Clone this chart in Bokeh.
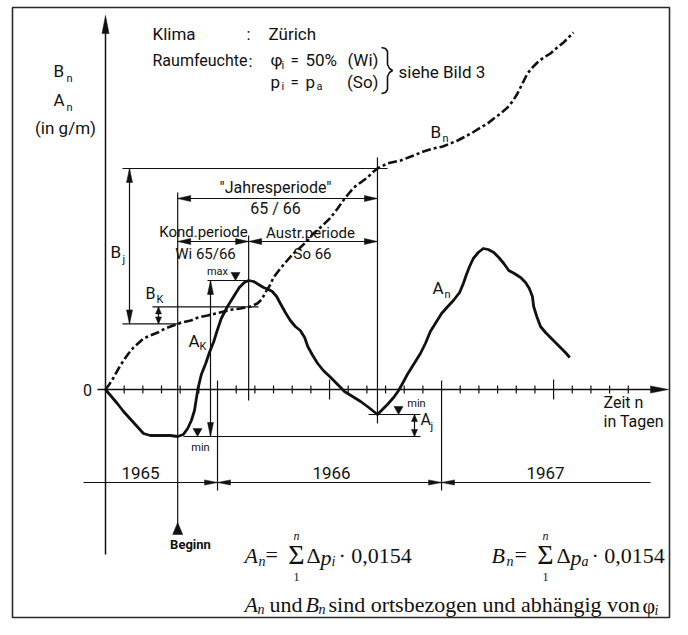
import numpy as np
from bokeh.plotting import figure
from bokeh.models import Range1d
from bokeh.core.properties import value
from bokeh.embed import file_html
from bokeh.resources import INLINE

# ---------------- data ----------------
# time n in days since 1 July 1965, values in g/m (arbitrary scale of the sketch)
days_A = [0, 19, 29, 45, 61, 72, 88, 104, 116, 125,
          132, 138, 143, 146, 149, 154, 161, 167, 174, 180,
          186, 196, 206, 215, 223, 230, 238, 246, 254, 262,
          268, 275, 281, 289, 297, 305, 313, 320, 325, 333,
          341, 350, 362, 373, 384, 397, 410, 423, 431, 437,
          445, 453, 463, 471, 479, 485, 495, 506, 514, 522,
          532, 540, 550, 559, 569, 575, 580, 585, 591, 599,
          607, 615, 624, 632, 640, 648, 657, 667, 675, 681,
          686, 688, 693, 699, 707, 715, 723, 731, 739, 746]
A_n = [0.0, -1.4, -2.2, -3.3, -4.4, -4.6, -4.6, -4.6, -4.7, -4.5,
       -3.9, -3.1, -2.1, -0.9, 0.2, 1.5, 2.6, 3.7, 4.8, 6.0,
       7.1, 8.3, 9.3, 10.2, 10.7, 10.9, 10.8, 10.5, 10.2, 10.0,
       9.8, 9.3, 8.6, 7.7, 6.9, 6.3, 5.9, 5.2, 4.3, 3.4,
       2.6, 1.9, 1.2, 0.5, -0.2, -0.7, -1.2, -1.8, -2.2, -2.5,
       -2.0, -1.5, -0.8, -0.1, 0.8, 1.5, 2.5, 3.6, 4.6, 5.8,
       6.8, 7.6, 8.3, 8.9, 9.7, 10.6, 11.5, 12.3, 13.1, 13.7,
       14.1, 14.0, 13.7, 13.2, 12.6, 11.9, 11.6, 11.2, 10.7, 10.1,
       9.3, 8.3, 7.3, 6.3, 5.7, 5.2, 4.7, 4.2, 3.7, 3.2]

days_B = [0, 6, 13, 21, 29, 37, 45, 61, 72, 84,
          96, 109, 122, 137, 149, 164, 177, 190, 204, 217,
          233, 244, 251, 257, 264, 270, 281, 292, 302, 313,
          325, 334, 349, 362, 373, 382, 391, 399, 410, 421,
          429, 437, 453, 474, 495, 511, 527, 542, 554, 566,
          575, 590, 603, 614, 624, 635, 646, 654, 662, 670,
          678, 686, 694, 704, 715, 726, 736, 744, 752]
B_n = [0.0, 0.5, 1.2, 2.1, 2.9, 3.6, 4.2, 5.1, 5.4, 5.7,
       6.1, 6.4, 6.7, 6.9, 7.2, 7.4, 7.6, 7.8, 8.0, 8.1,
       8.3, 8.6, 9.0, 9.7, 10.4, 11.2, 12.1, 12.9, 13.6, 14.2,
       14.9, 15.6, 16.4, 17.2, 18.1, 18.9, 19.6, 20.2, 20.7, 21.2,
       21.7, 22.1, 22.6, 22.9, 23.4, 23.8, 24.1, 24.3, 24.6, 24.9,
       25.2, 25.7, 26.2, 26.6, 27.1, 27.6, 28.2, 28.8, 29.6, 30.6,
       31.6, 32.2, 32.7, 33.2, 33.6, 34.2, 34.7, 35.2, 35.7]

tick_days = [30 * k for k in range(1, 29)]      # monthly ticks
year_labels = ["1965", "1966", "1967"]
year_start_days = [180, 540]                     # 1.1.1966, 1.1.1967

# derived characteristic points
dA = np.array(days_A, float); vA = np.array(A_n, float)
first = dA < 300
i_min1 = int(np.argmin(np.where(first, vA, np.inf)))
i_max1 = int(np.argmax(np.where(first, vA, -np.inf)))
i_min2 = int(np.argmin(np.where((dA > 300) & (dA < 600), vA, np.inf)))
n_beg, A_min1 = dA[i_min1], vA[i_min1]
n_kond, A_max = dA[i_max1], vA[i_max1]
n_end, A_min2 = dA[i_min2], vA[i_min2]
B_beg = float(np.interp(n_beg, days_B, B_n))
B_kond = float(np.interp(n_kond, days_B, B_n))
B_end = float(np.interp(n_end, days_B, B_n))

# ---------------- layout helpers ----------------
INK = "#111111"
W, H = 672, 619
DPX = 30 / 18.67          # days per pixel
UPY = 0.1                 # g/m per pixel
OX, OY = 105, 389         # origin position (pixels from top-left)


def gx(X):
    return (X - OX) * DPX


def gy(Y):
    return (OY - Y) * UPY


p = figure(width=W, height=H,
           x_range=Range1d(gx(0), gx(W)), y_range=Range1d(gy(H), gy(0)),
           output_backend="svg", toolbar_location=None,
           x_axis_location=None, y_axis_location=None,
           min_border=0, outline_line_color=None,
           background_fill_color="white", border_fill_color="white")
p.xgrid.visible = False
p.ygrid.visible = False

segs_x, segs_y = [], []
heads_x, heads_y = [], []


def seg(x0, y0, x1, y1):
    segs_x.append([x0, x1]); segs_y.append([y0, y1])


def head(tx, ty, d, L=13, w=3):
    lx, ly, wx, wy = L * DPX, L * UPY, w * DPX, w * UPY
    if d == "r":
        pts = [(tx, ty), (tx - lx, ty + wy), (tx - lx, ty - wy)]
    elif d == "l":
        pts = [(tx, ty), (tx + lx, ty + wy), (tx + lx, ty - wy)]
    elif d == "u":
        pts = [(tx, ty), (tx - wx, ty - ly), (tx + wx, ty - ly)]
    else:
        pts = [(tx, ty), (tx - wx, ty + ly), (tx + wx, ty + ly)]
    heads_x.append([q[0] for q in pts]); heads_y.append([q[1] for q in pts])


def T(X, Y, s, size=16, align="left", font="Roboto", style="normal"):
    p.text(x=[gx(X)], y=[gy(Y)], text=[s], text_font=value(font),
           text_font_size=f"{size}px", text_font_style=style,
           text_align=align, text_baseline="middle", text_color=INK)


# frame
p.quad(left=gx(12), right=gx(669), top=gy(7), bottom=gy(617),
       fill_color=None, line_color="#2a2a2a", line_width=1.6)

# axes
p.line([gx(97), gx(655)], [0, 0], line_color=INK, line_width=1.5)
head(gx(668), 0, "r", L=18, w=3.5)
p.line([0, 0], [gy(554), gy(25)], line_color=INK, line_width=1.5)
head(0, gy(15), "u", L=18, w=3.5)

for k, t in enumerate(tick_days, start=1):
    if t in year_start_days:
        continue
    h = 10 if k % 6 == 0 else 4
    seg(t, gy(OY - h), t, gy(OY + h))
for b in year_start_days:
    seg(b, gy(380), b, gy(490))

# year line
seg(gx(83), gy(482), gx(650), gy(482))
for b in year_start_days:
    head(b, gy(482), "r", L=13, w=2.6)
    head(b, gy(482), "l", L=13, w=2.6)

# period verticals
seg(n_beg, gy(192), n_beg, gy(530))
head(n_beg, gy(522), "u", L=12, w=5)
seg(n_kond, gy(235), n_kond, gy(400))
seg(n_end, gy(157), n_end, gy(423))

# period arrows
yJ, yK = gy(198), gy(241)
seg(n_beg, yJ, n_end, yJ); head(n_beg, yJ, "l"); head(n_end, yJ, "r")
seg(n_beg, yK, n_kond, yK); head(n_beg, yK, "l"); head(n_kond, yK, "r")
seg(n_kond, yK, n_end, yK); head(n_kond, yK, "l"); head(n_end, yK, "r")

# B_j and B_K
seg(gx(122), B_end, gx(387), B_end)
seg(gx(122), B_beg, gx(180), B_beg)
seg(gx(129), B_beg, gx(129), B_end)
head(gx(129), B_end, "u", L=14, w=3); head(gx(129), B_beg, "d", L=14, w=3)
seg(gx(152), B_kond, gx(258), B_kond)
seg(gx(158), B_beg, gx(158), B_kond)
head(gx(158), B_kond, "u", L=7, w=3); head(gx(158), B_beg, "d", L=7, w=3)

# A_K and A_j
seg(gx(207), A_max, n_kond, A_max)
seg(gx(183), A_min1, gx(420), A_min1)
seg(gx(210), A_min1, gx(210), A_max)
head(gx(210), A_max, "u", L=14, w=3); head(gx(210), A_min1, "d", L=14, w=3)
seg(gx(368), A_min2, gx(420), A_min2)
seg(gx(414), A_min2, gx(414), A_min1)
head(gx(414), A_min2, "u", L=7, w=3); head(gx(414), A_min1, "d", L=7, w=3)

# max / min markers
head(gx(235), A_max, "d", L=8, w=4.5)
head(gx(197), A_min1, "d", L=8, w=4.5)
head(gx(398), A_min2, "d", L=8, w=4.5)

p.multi_line(segs_x, segs_y, line_color=INK, line_width=1.2)
p.patches(heads_x, heads_y, fill_color=INK, line_color=INK, line_width=0.5)

# curves
p.line(days_A, A_n, line_color=INK, line_width=2.8, line_join="round")
p.line(days_B, B_n, line_color=INK, line_width=2.6, line_dash="9 3 3 3")

# brace
brace_X = [381, 385, 387, 387, 389, 392, 389, 387, 387, 385, 381]
brace_Y = [47, 48, 51, 64, 68, 70, 72, 76, 89, 92, 93]
p.line([gx(v) for v in brace_X], [gy(v) for v in brace_Y], line_color=INK, line_width=1.6)

# ---------------- texts ----------------
T(152, 33, "Klima", 17)
T(248, 33, ":", 17, "center")
T(268, 33, "Zürich", 17)
T(152, 60, "Raumfeuchte", 16)
T(250, 60, ":", 17, "center")
T(270, 59, "φ", 17); T(281, 65, "i", 11)
T(290, 59, "=", 15); T(305, 59, "50%", 17); T(378, 59, "(Wi)", 17, "right")
T(270, 81, "p", 17); T(281, 86, "i", 11)
T(290, 81, "=", 15); T(305, 81, "p", 17); T(316, 86, "a", 11); T(378, 81, "(So)", 17, "right")
T(398, 71, "siehe Bild 3", 17)

T(53, 70, "B", 17); T(66, 78, "n", 11)
T(53, 99, "A", 17); T(66, 107, "n", 11)
T(65, 127, "(in g/m)", 17, "center")

T(87, 389, "0", 16, "center")
T(603, 402, "Zeit  n", 16)
T(603, 421, "in Tagen", 16)

T(275, 187, "\"Jahresperiode\"", 16, "center")
T(275, 208, "65 / 66", 16, "center")
T(203, 231, "Kond.periode", 15, "center")
T(205, 253, "Wi 65/66", 15, "center")
T(310, 232, "Austr.periode", 15, "center")
T(312, 253, "So 66", 15, "center")

T(217, 271, "max", 11, "center")
T(200, 447, "min", 11, "center")
T(416, 403, "min", 11, "center")

T(110, 251, "B", 17); T(122, 259, "j", 11)
T(145, 293, "B", 16); T(156, 299, "K", 11)
T(188, 340, "A", 17); T(199, 346, "K", 11)
T(420, 419, "A", 16); T(430, 426, "j", 11)
T(432, 287, "A", 17); T(444, 294, "n", 11)
T(430, 131, "B", 17); T(442, 138, "n", 11)

for lab, X in zip(year_labels, [140, 331, 545]):
    T(X, 472, lab, 17, "center")
T(190, 544, "Beginn", 13, "center", style="bold")

SERIF = "Liberation Serif"
FY, LY = 555, 604
# formula 1
T(244, FY, "A", 22, font=SERIF, style="italic"); T(258, FY + 6, "n", 14, font=SERIF, style="italic")
T(265, FY - 1, "=", 22, font=SERIF)
T(296, FY - 1, "Σ", 28, "center", font=SERIF)
T(296, FY - 20, "n", 12, "center", font=SERIF, style="italic")
T(296, FY + 21, "1", 12, "center", font=SERIF)
T(306, FY, "Δ", 22, font=SERIF); T(320, FY + 2, "p", 22, font=SERIF, style="italic")
T(331, FY + 6, "i", 14, font=SERIF, style="italic")
T(338, FY, "· 0,0154", 22, font=SERIF)
# formula 2
T(491, FY, "B", 22, font=SERIF, style="italic"); T(506, FY + 6, "n", 14, font=SERIF, style="italic")
T(514, FY - 1, "=", 22, font=SERIF)
T(545, FY - 1, "Σ", 28, "center", font=SERIF)
T(545, FY - 20, "n", 12, "center", font=SERIF, style="italic")
T(545, FY + 21, "1", 12, "center", font=SERIF)
T(556, FY, "Δ", 22, font=SERIF); T(570, FY + 2, "p", 22, font=SERIF, style="italic")
T(581, FY + 6, "a", 14, font=SERIF, style="italic")
T(591, FY, "· 0,0154", 22, font=SERIF)
# line 3
T(244, LY, "A", 22, font=SERIF, style="italic"); T(257, LY + 5, "n", 14, font=SERIF, style="italic")
T(269, LY, "und", 22, font=SERIF)
T(305, LY, "B", 22, font=SERIF, style="italic"); T(318, LY + 5, "n", 14, font=SERIF, style="italic")
T(328, LY, "sind ortsbezogen und abhängig von", 22, font=SERIF)
T(642, LY + 1, "φ", 22, font=SERIF); T(654, LY + 6, "i", 14, font=SERIF, style="italic")

open("out.html", "w").write(file_html(p, INLINE))
